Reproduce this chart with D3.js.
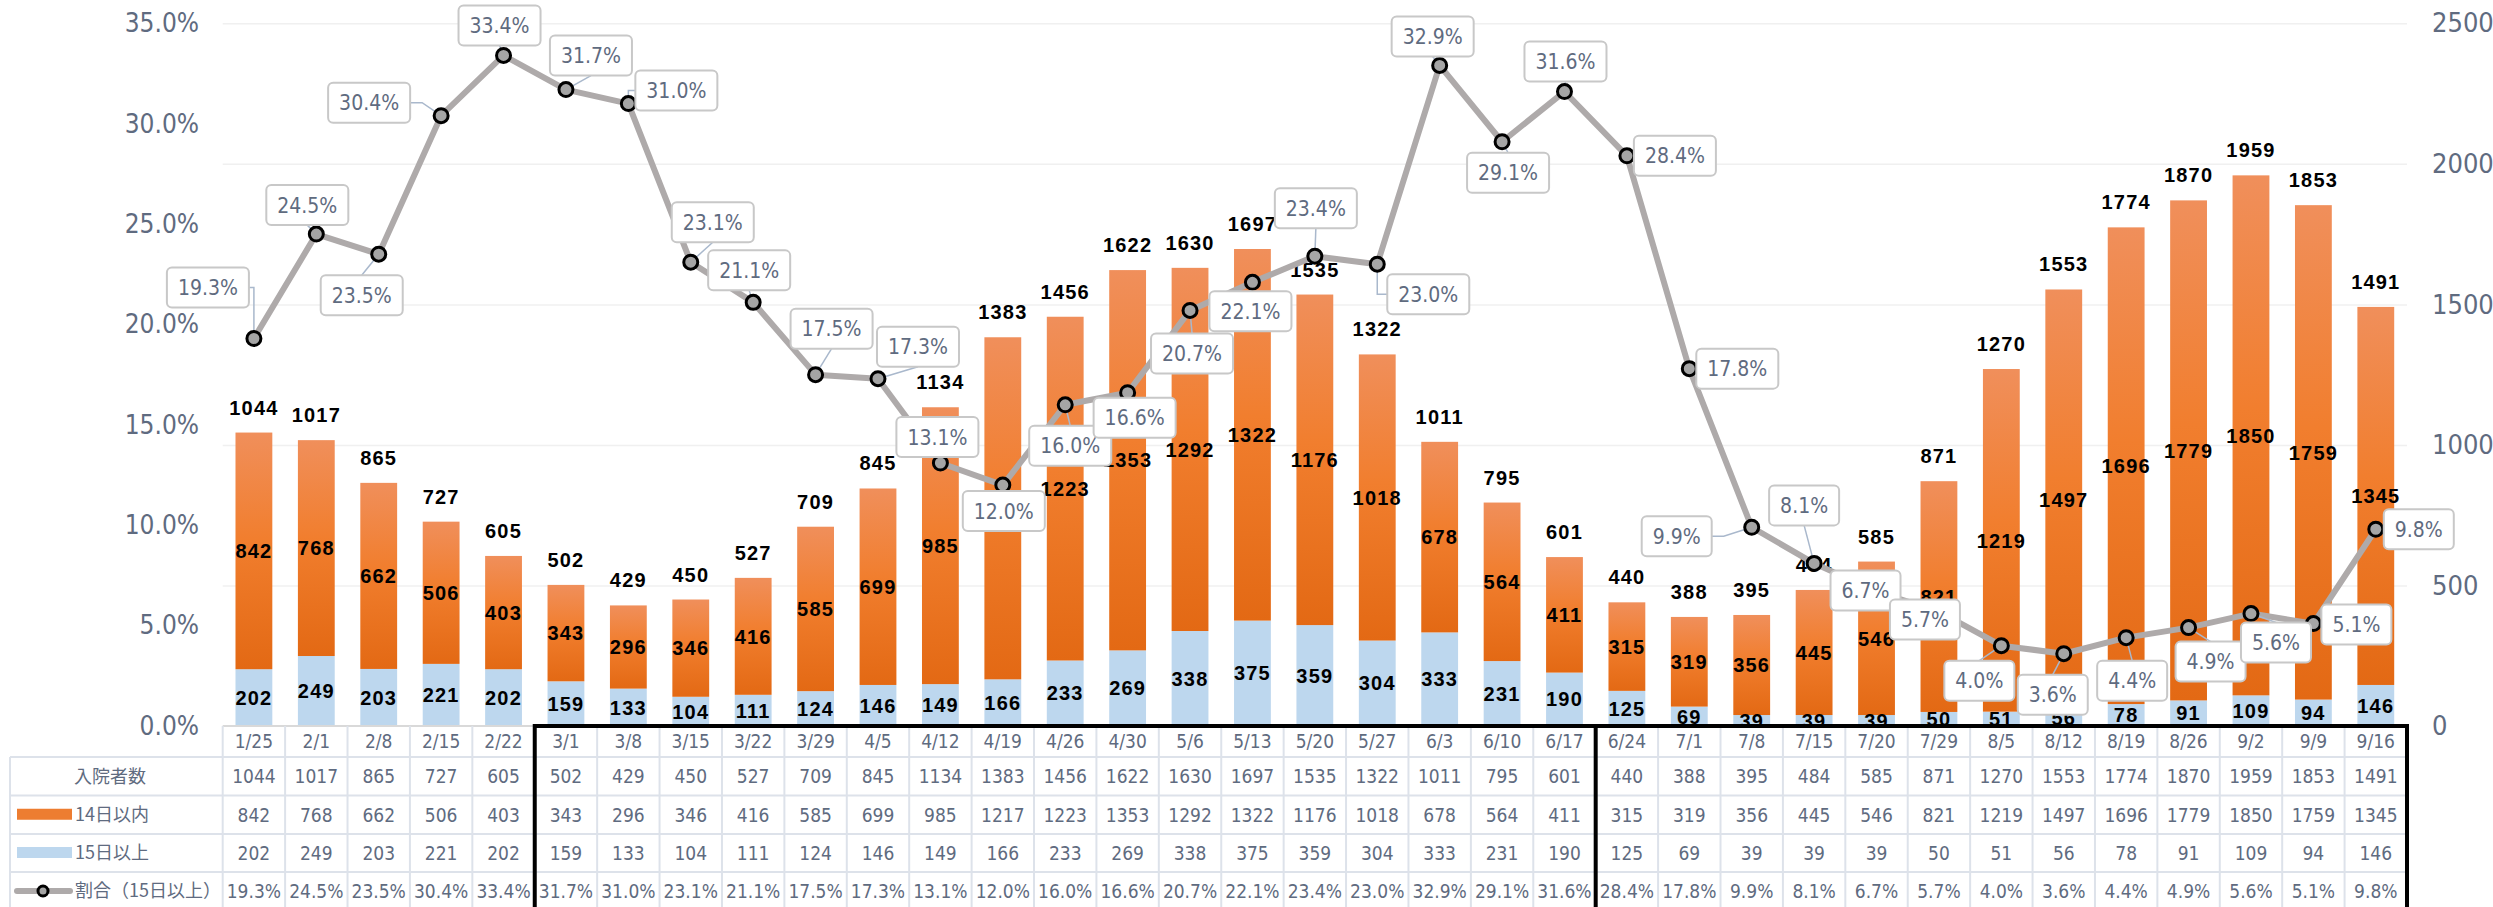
<!DOCTYPE html>
<html>
<head>
<meta charset="utf-8">
<script src="https://cdn.jsdelivr.net/npm/d3@7"></script>
<style>
  body { margin: 0; background: #fff; }
  svg { display: block; }
  .num { font-family: "Liberation Sans Narrow", "DejaVu Sans Condensed", "Arial Narrow", sans-serif; fill: #5f6b80; }
  .jp { font-family: "Noto Sans CJK JP", "Noto Sans", sans-serif; fill: #5f6b80; }
  .barlbl { font-family: "Liberation Sans", Arial, sans-serif; font-weight: bold; fill: #000; letter-spacing: 1.2px; }
</style>
</head>
<body>
<svg id="chart" width="2493" height="907"></svg>
<script>
var dates = ["1/25","2/1","2/8","2/15","2/22","3/1","3/8","3/15","3/22","3/29","4/5","4/12","4/19","4/26","4/30","5/6","5/13","5/20","5/27","6/3","6/10","6/17","6/24","7/1","7/8","7/15","7/20","7/29","8/5","8/12","8/19","8/26","9/2","9/9","9/16"];
var total = [1044,1017,865,727,605,502,429,450,527,709,845,1134,1383,1456,1622,1630,1697,1535,1322,1011,795,601,440,388,395,484,585,871,1270,1553,1774,1870,1959,1853,1491];
var within14 = [842,768,662,506,403,343,296,346,416,585,699,985,1217,1223,1353,1292,1322,1176,1018,678,564,411,315,319,356,445,546,821,1219,1497,1696,1779,1850,1759,1345];
var over15 = [202,249,203,221,202,159,133,104,111,124,146,149,166,233,269,338,375,359,304,333,231,190,125,69,39,39,39,50,51,56,78,91,109,94,146];
var ratio = [19.3,24.5,23.5,30.4,33.4,31.7,31.0,23.1,21.1,17.5,17.3,13.1,12.0,16.0,16.6,20.7,22.1,23.4,23.0,32.9,29.1,31.6,28.4,17.8,9.9,8.1,6.7,5.7,4.0,3.6,4.4,4.9,5.6,5.1,9.8];
var leftTicks = [0,5,10,15,20,25,30,35];
var rightTicks = [0,500,1000,1500,2000,2500];
var rowNames = ["入院者数","14日以内","15日以上","割合（15日以上）"];

// where each percent box sits relative to its point (moved by hand in the original)
var labelOffsets = [[-46,-51],[-9,-29],[-17,41],[-72,-13],[-4,-30],[25,-34],[48,-13],[22,-40],[-4,-32],[16,-46],
  [40,-32],[-3,-26],[1,26],[5,41],[7,25],[2,43],[-2,29],[1,-48],[51,30],[-7,-29],
  [6,31],[1,-30],[48,0],[48,0],[-75,9],[-10,-58],[-11,-1],[-14,8],[-22,35],[-11,41],
  [6,43],[22,34],[25,29],[43,1],[43,0]];

var svg = d3.select("#chart");
var x0 = 222.7, x1 = 2407, yBase = 726, yTop = 23.3;

var x = d3.scaleBand().domain(dates).range([x0, x1]).paddingInner(0.41).paddingOuter(0.205);
var xCell = d3.scaleBand().domain(dates).range([x0, x1]);
var yL = d3.scaleLinear().domain([0, 35]).range([yBase, yTop]);
var yR = d3.scaleLinear().domain([0, 2500]).range([yBase, yTop]);
var cx = d => xCell(d) + xCell.bandwidth() / 2;

var defs = svg.append("defs");
var grad = defs.append("linearGradient").attr("id", "og").attr("x1", 0).attr("y1", 0).attr("x2", 0).attr("y2", 1);
grad.append("stop").attr("offset", "0%").attr("stop-color", "#f08f5b");
grad.append("stop").attr("offset", "45%").attr("stop-color", "#f17e2e");
grad.append("stop").attr("offset", "100%").attr("stop-color", "#e36914");

// grid
svg.append("g")
	.attr("transform", "translate(" + x1 + ",0)")
	.call(d3.axisLeft(yR).tickValues(rightTicks).tickSize(x1 - x0).tickFormat(""))
	.call(g => g.select(".domain").remove())
	.selectAll("line").attr("stroke", "#f0f0f0").attr("stroke-width", 1.5);

// axes
var gl = svg.append("g").attr("transform", "translate(199,0)")
	.call(d3.axisLeft(yL).tickValues(leftTicks).tickSize(0).tickPadding(0).tickFormat(d => d.toFixed(1) + "%"));
gl.select(".domain").remove();
gl.selectAll("text").attr("class", "num").style("font-size", "26px").attr("fill", null);

var gr = svg.append("g").attr("transform", "translate(2432,0)")
	.call(d3.axisRight(yR).tickValues(rightTicks).tickSize(0).tickPadding(0).tickFormat(d3.format("d")));
gr.select(".domain").remove();
gr.selectAll("text").attr("class", "num").style("font-size", "27px").attr("fill", null);

// bars
var bars = svg.append("g");
bars.selectAll("rect.o15").data(dates).enter().append("rect")
	.attr("x", d => x(d)).attr("width", x.bandwidth())
	.attr("y", (d, i) => yR(over15[i]))
	.attr("height", (d, i) => yBase - yR(over15[i]))
	.attr("fill", "#bdd7ee");
bars.selectAll("rect.w14").data(dates).enter().append("rect")
	.attr("x", d => x(d)).attr("width", x.bandwidth())
	.attr("y", (d, i) => yR(over15[i] + within14[i]))
	.attr("height", (d, i) => yR(over15[i]) - yR(over15[i] + within14[i]))
	.attr("fill", "url(#og)");

var bl = svg.append("g").attr("class", "barlbl").style("font-size", "20px").attr("text-anchor", "middle");
bl.selectAll("text.t").data(dates).enter().append("text")
	.attr("x", cx).attr("y", (d, i) => yR(total[i]) - 18)
	.text((d, i) => total[i]);
bl.selectAll("text.w").data(dates).enter().append("text")
	.attr("x", cx).attr("y", (d, i) => (yR(over15[i]) + yR(over15[i] + within14[i])) / 2).attr("dy", "0.36em")
	.text((d, i) => within14[i]);
bl.selectAll("text.o").data(dates).enter().append("text")
	.attr("x", cx).attr("y", (d, i) => (yBase + yR(over15[i])) / 2).attr("dy", "0.36em")
	.text((d, i) => over15[i]);

// ratio line
var line = d3.line().x(d => cx(d)).y((d, i) => yL(ratio[i]));
svg.append("path").datum(dates).attr("d", line)
	.attr("fill", "none").attr("stroke", "#aeaaaa").attr("stroke-width", 6).attr("stroke-linejoin", "round");

var lab = svg.append("g");
var leaders = lab.append("g");
var marks = lab.append("g");
var boxes = lab.append("g");

marks.selectAll("circle").data(dates).enter().append("circle")
	.attr("cx", cx).attr("cy", (d, i) => yL(ratio[i])).attr("r", 7)
	.attr("fill", "#a5a5a5").attr("stroke", "#000").attr("stroke-width", 3);

dates.forEach(function(d, i){
	var px = cx(d), py = yL(ratio[i]);
	var bx = px + labelOffsets[i][0], by = py + labelOffsets[i][1];
	var g = boxes.append("g");
	var r = g.append("rect");
	var t = g.append("text").attr("class", "num").style("font-size", "21px")
		.attr("x", bx).attr("y", by).attr("dy", "0.36em").attr("text-anchor", "middle")
		.text(ratio[i].toFixed(1) + "%");
	var w = t.node().getComputedTextLength() + 22, h = 40;
	var l = bx - w / 2, rr = bx + w / 2, tp = by - h / 2, bt = by + h / 2;
	r.attr("x", l).attr("y", tp).attr("width", w).attr("height", h).attr("rx", 5)
		.attr("fill", "#fff").attr("stroke", "#c8c8c8").attr("stroke-width", 2);
	var pad = 6;
	if (px > l - pad && px < rr + pad && py > tp - pad && py < bt + pad) return;
	var pts;
	if (px < l - 2 || px > rr + 2) {
		var sx = px < l ? l : rr, dir = px < l ? -1 : 1;
		var stub = Math.min(12, Math.abs(px - sx));
		pts = [[sx, by], [sx + dir * stub, by], [px, py]];
	} else {
		var sy = py < tp ? tp : bt;
		pts = [[bx, sy], [px, py]];
	}
	leaders.append("path").attr("d", d3.line()(pts))
		.attr("fill", "none").attr("stroke", "#a9b8cc").attr("stroke-width", 1.5);
});

// data table
var tb = svg.append("g");
var rowY = [726, 757, 795.5, 834, 872, 910];
tb.append("rect").attr("x", x0).attr("y", yBase).attr("width", x1 - x0).attr("height", 907 - yBase).attr("fill", "#fff");
var gridC = "#dde2ea";
tb.append("line").attr("x1", x0).attr("x2", x1).attr("y1", yBase).attr("y2", yBase).attr("stroke", "#d9d9d9").attr("stroke-width", 2);
rowY.slice(1, 5).forEach(function(y){
	tb.append("line").attr("x1", 10).attr("x2", x1).attr("y1", y).attr("y2", y).attr("stroke", gridC).attr("stroke-width", 2);
});
tb.append("line").attr("x1", 10).attr("x2", 10).attr("y1", rowY[1]).attr("y2", 907).attr("stroke", gridC).attr("stroke-width", 2);
tb.selectAll("line.v").data(dates.concat(["end"])).enter().append("line")
	.attr("x1", (d, i) => x0 + i * xCell.step()).attr("x2", (d, i) => x0 + i * xCell.step())
	.attr("y1", yBase).attr("y2", 907).attr("stroke", gridC).attr("stroke-width", 2);

var rows = [dates, total, within14, over15, ratio.map(v => v.toFixed(1) + "%")];
rows.forEach(function(vals, r){
	tb.append("g").selectAll("text").data(vals).enter().append("text")
		.attr("class", "num").style("font-size", "19px").attr("text-anchor", "middle")
		.attr("x", (v, i) => cx(dates[i]))
		.attr("y", (rowY[r] + rowY[r + 1]) / 2).attr("dy", "0.36em")
		.text(v => v);
});

// row headers with legend keys
var hy = r => (rowY[r + 1] + rowY[r + 2]) / 2;
tb.append("text").attr("class", "jp").style("font-size", "18px").attr("text-anchor", "middle")
	.attr("x", 110).attr("y", hy(0)).attr("dy", "0.36em").text(rowNames[0]);
tb.append("rect").attr("x", 17).attr("y", hy(1) - 6).attr("width", 55).attr("height", 11).attr("fill", "#ed7d31");
tb.append("rect").attr("x", 17).attr("y", hy(2) - 6).attr("width", 55).attr("height", 11).attr("fill", "#bdd7ee");
tb.append("line").attr("x1", 17).attr("x2", 70).attr("y1", hy(3)).attr("y2", hy(3)).attr("stroke", "#aeaaaa").attr("stroke-width", 6).attr("stroke-linecap", "round");
tb.append("circle").attr("cx", 43).attr("cy", hy(3)).attr("r", 5).attr("fill", "#a5a5a5").attr("stroke", "#000").attr("stroke-width", 3);
[1, 2, 3].forEach(function(r){
	tb.append("text").attr("class", "jp").style("font-size", "18px")
		.attr("x", 75).attr("y", hy(r)).attr("dy", "0.36em").text(rowNames[r]);
});

// black group frames
var bx5 = x0 + 5 * xCell.step(), bx22 = x0 + 22 * xCell.step();
tb.append("path")
	.attr("d", "M" + bx5 + ",907V" + yBase + "H" + x1 + "V907M" + bx22 + "," + yBase + "V907")
	.attr("fill", "none").attr("stroke", "#000").attr("stroke-width", 4);
</script>
</body>
</html>
